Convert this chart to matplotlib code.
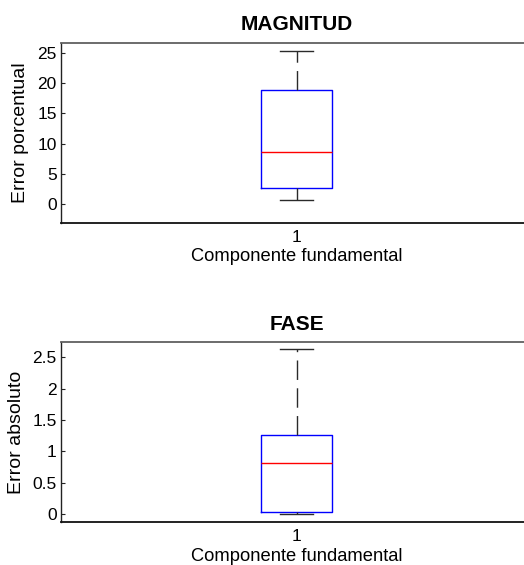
import matplotlib
matplotlib.use("Agg")
import matplotlib.pyplot as plt
from matplotlib.ticker import FormatStrFormatter

plt.rcParams['font.family'] = ['Liberation Sans', 'DejaVu Sans']

# Box statistics
titles = ["MAGNITUD", "FASE"]
ylabels = ["Error porcentual", "Error absoluto"]
xlabel = "Componente fundamental"
category = ["1"]
whislo = [0.6, 0.0]
q1 = [2.6, 0.037]
med = [8.6, 0.82]
q3 = [18.8, 1.255]
whishi = [25.4, 2.63]
ylims = [(-3.15, 26.65), (-0.132, 2.74)]
yticks = [[0, 5, 10, 15, 20, 25], [0, 0.5, 1, 1.5, 2, 2.5]]

fig = plt.figure(figsize=(5.24, 5.65), dpi=100)
positions = [[0.1164, 0.6053, 0.899, 0.3186], [0.1164, 0.0756, 0.899, 0.3186]]
ylabelpads = [6, 5.5]

for i in range(2):
    ax = fig.add_axes(positions[i])
    stats = [dict(med=med[i], q1=q1[i], q3=q3[i], whislo=whislo[i],
                  whishi=whishi[i], fliers=[], label=category[0])]
    ax.bxp(stats, positions=[1], widths=0.15, capwidths=0.072, showfliers=False,
           boxprops=dict(color='blue', linewidth=1.0),
           medianprops=dict(color='red', linewidth=1.0),
           whiskerprops=dict(color='#2a2a2a', linewidth=1.0, linestyle=(0, (14, 6))),
           capprops=dict(color='#2a2a2a', linewidth=1.0))
    ax.set_xlim(0.5, 1.5)
    ax.set_ylim(*ylims[i])
    ax.set_yticks(yticks[i])
    ax.yaxis.set_major_formatter(FormatStrFormatter('%g'))
    ax.tick_params(axis='y', direction='in', length=3, color='#222222',
                   labelsize=12.5, pad=3)
    ax.tick_params(axis='x', length=0, labelsize=12.5, pad=5)
    ax.set_title(titles[i], fontsize=15, fontweight='bold', pad=9)
    ax.set_xlabel(xlabel, fontsize=13.2, labelpad=2.5)
    ax.set_ylabel(ylabels[i], fontsize=14, labelpad=ylabelpads[i])
    ax.spines['top'].set_color('#606060')
    ax.spines['top'].set_linewidth(1.3)
    ax.spines['left'].set_color('#222222')
    ax.spines['left'].set_linewidth(1.0)
    ax.spines['bottom'].set_color('#111111')
    ax.spines['bottom'].set_linewidth(1.3)
    ax.spines['right'].set_visible(False)

fig.savefig("out.png", dpi=100)
